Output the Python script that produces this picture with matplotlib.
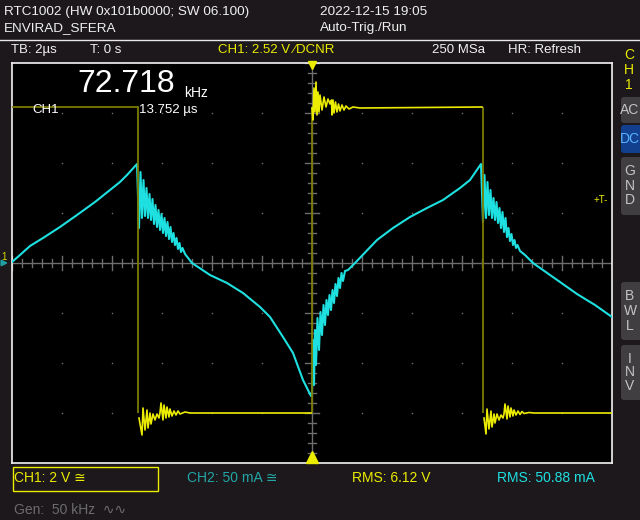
import matplotlib
matplotlib.use('Agg')
import matplotlib.pyplot as plt
from matplotlib.patches import FancyBboxPatch, Rectangle
import numpy as np

plt.rcParams['font.family'] = ['Liberation Sans', 'DejaVu Sans']

# ---- scope settings ----
tb_us_per_div = 2.0        # time base
ch1_v_per_div = 2.0        # CH1 volts / div
ch2_ma_per_div = 50.0      # CH2 mA / div

# ---- CH1 (voltage, yellow square wave) ----
ch1_high = 6.24
ch1_low = -6.0
edge_t = [-6.96, 0.0, 6.84]

ch1_pre_t = [-12.0, -6.96]
ch1_pre_v = [6.24, 6.24]

ch1_low1_t = [-6.92, -6.8, -6.76, -6.68, -6.6, -6.56, -6.48, -6.44, -6.36, -6.28, -6.2, -6.12,
              -6.08, -6.04, -5.96, -5.92, -5.84, -5.8, -5.72, -5.68, -5.6, -5.52, -5.44, -5.36,
              -5.28, -5.08, -4.88, -0.04]
ch1_low1_v = [-6.2, -6.88, -5.8, -6.68, -5.88, -6.6, -6.0, -6.44, -6.04, -6.28, -6.04, -6.2,
              -6.0, -5.6, -6.28, -5.68, -6.2, -5.76, -6.16, -5.84, -6.12, -5.92, -6.08, -5.92,
              -6.04, -5.96, -6.0, -6.0]

ch1_high_t = [0.0, 0.04, 0.08, 0.12, 0.16, 0.2, 0.24, 0.28, 0.32, 0.4, 0.48, 0.56, 0.64, 0.72,
              0.78, 0.8, 0.84, 0.88, 0.94, 1.0, 1.06, 1.12, 1.2, 1.28, 1.36, 1.48, 1.64, 1.92, 6.8]
ch1_high_v = [6.2, 5.72, 7.0, 6.04, 7.24, 5.92, 6.84, 6.04, 6.72, 6.12, 6.64, 6.24, 6.56, 6.36,
              6.52, 5.92, 6.52, 6.0, 6.44, 6.04, 6.36, 6.08, 6.32, 6.12, 6.28, 6.16, 6.24, 6.2, 6.24]

ch1_low2_t = [6.88, 6.96, 7.0, 7.08, 7.16, 7.2, 7.28, 7.32, 7.4, 7.48, 7.56, 7.64, 7.68, 7.72,
              7.8, 7.84, 7.92, 7.96, 8.04, 8.08, 8.16, 8.24, 8.32, 8.4, 8.48, 8.68, 8.88, 12.0]
ch1_low2_v = [-6.2, -6.84, -5.84, -6.64, -5.92, -6.56, -6.04, -6.4, -6.04, -6.28, -6.08, -6.2,
              -6.04, -5.64, -6.24, -5.72, -6.16, -5.8, -6.12, -5.88, -6.08, -5.92, -6.06, -5.94,
              -6.02, -5.98, -6.0, -6.0]

# ---- CH2 (current, cyan) ----
ch2_t = [-12.0, -11.68, -11.28, -10.76, -10.08, -9.4, -8.68, -8.08, -7.68, -7.4, -7.0,
         -6.92, -6.86, -6.8, -6.74, -6.68, -6.62, -6.56, -6.5, -6.44, -6.38, -6.32, -6.26,
         -6.2, -6.14, -6.08, -6.02, -5.96, -5.9, -5.84, -5.78, -5.72, -5.66, -5.6, -5.54,
         -5.48, -5.42, -5.36, -5.3, -5.24, -5.18, -5.08,
         -4.8, -4.08, -3.4, -2.76, -2.08, -1.68, -1.16, -0.76, -0.36, -0.16, -0.04,
         0.0, 0.04, 0.08, 0.12, 0.16, 0.22, 0.28, 0.34, 0.4, 0.46, 0.52, 0.58, 0.64, 0.7,
         0.76, 0.82, 0.88, 0.94, 1.0, 1.06, 1.12, 1.18, 1.24, 1.32, 1.44, 1.72,
         2.6, 3.24, 3.92, 4.6, 5.24, 5.92, 6.32, 6.76,
         6.84, 6.9, 6.96, 7.02, 7.08, 7.14, 7.2, 7.26, 7.32, 7.38, 7.44, 7.5, 7.56, 7.62,
         7.68, 7.74, 7.8, 7.86, 7.92, 7.98, 8.04, 8.1, 8.16, 8.22, 8.32, 8.52,
         8.84, 9.52, 9.92, 10.6, 11.32, 12.0]
ch2_ma = [1, 8, 17, 25, 36, 48, 61, 73, 81, 88, 99,
          35, 91, 45, 83, 47, 75, 45, 69, 43, 64, 39, 58,
          36, 53, 33, 49, 30, 45, 27, 41, 24, 36, 21, 30,
          18, 25, 14, 20, 11, 15, 9,
          0, -12, -20, -30, -44, -54, -74, -90, -117, -127, -133,
          -129, -77, -122, -67, -102, -55, -87, -49, -72, -42, -62, -37, -52, -32,
          -47, -27, -40, -21, -33, -15, -25, -10, -18, -8, -7, 0,
          23, 35, 46, 55, 63, 75, 83, 99,
          41, 88, 45, 81, 48, 73, 45, 65, 43, 61, 40, 55, 35, 51,
          31, 45, 26, 35, 22, 29, 18, 23, 15, 18, 12, 8,
          0, -12, -19, -31, -42, -54]

BG = '#1c181b'
YEL = '#ecec00'
DIM = '#7c7c00'
CYAN = '#1ee0e0'
W, H = 640, 520

fig = plt.figure(figsize=(6.4, 5.2), dpi=100, facecolor=BG)


def fx(x, y):
    return x / W, 1 - y / H


def label(x, y, s, color='#f0f0f0', size=9.5, ha='left', **kw):
    fig.text(*fx(x, y), s, color=color, fontsize=size, ha=ha, va='center', **kw)


# overlay for panel furniture (pixel coords)
bg = fig.add_axes([0, 0, 1, 1], zorder=0)
bg.set_xlim(0, W)
bg.set_ylim(H, 0)
bg.axis('off')
bg.plot([0, W], [39.5, 39.5], color='#e8e8e8', lw=1)

buttons = [(97, 123, 'AC', False), (125, 153, 'DC', True), (157, 215, 'GND', False),
           (282, 340, 'BWL', False), (345, 400, 'INV', False)]
for top, bot, txt, active in buttons:
    bg.add_patch(FancyBboxPatch((621, top), 25, bot - top, boxstyle='round,pad=0,rounding_size=3',
                                fc='#12408f' if active else '#403e41', ec='none'))
    tc = '#56b4ff' if active else '#c4c4c4'
    if len(txt) == 2:
        label(630, (top + bot) / 2, txt, color=tc, size=10, ha='center')
    else:
        step = (bot - top) / 4
        for i, ch in enumerate(txt):
            label(630, top + step * (i + 1), ch, color=tc, size=10, ha='center')
for i, ch in enumerate('CH1'):
    label(629, 55 + 15 * i, ch, color=YEL, size=10, ha='center')

# CH1 box in bottom bar
bg.add_patch(Rectangle((12.5, 466.5), 145, 24, fill=False, ec=YEL, lw=1))

# left channel marker
bg.annotate('', xy=(11, 263), xytext=(0, 263),
            arrowprops=dict(arrowstyle='-|>', color='#1fa0a0', lw=1.5, mutation_scale=8))
label(4, 257, '1', color='#d8d800', size=7, ha='center')

# ---- main graticule ----
ax = fig.add_axes([12 / W, 1 - 463 / H, 600 / W, 400 / H], zorder=1)
ax.set_facecolor('black')
ax.set_xlim(-6 * tb_us_per_div, 6 * tb_us_per_div)
ax.set_ylim(-4, 4)
ax.set_xticks([])
ax.set_yticks([])
for sp in ax.spines.values():
    sp.set_color('#f4f4f4')
    sp.set_linewidth(1.2)

gx, gy = np.meshgrid(np.arange(-5, 6) * tb_us_per_div, np.arange(-3, 4))
ax.scatter(gx.ravel(), gy.ravel(), s=1.2, color='#707070', lw=0)
grat = '#6e6e6e'
ax.axhline(0, color=grat, lw=1)
ax.axvline(0, color=grat, lw=1)
for t in np.arange(-12, 12.01, 0.4):
    h = 0.14 if abs(t / 2 - round(t / 2)) < 1e-6 else 0.08
    ax.plot([t, t], [-h, h], color=grat, lw=1)
for v in np.arange(-4, 4.01, 0.2):
    h = 0.28 if abs(v - round(v)) < 1e-6 else 0.16
    ax.plot([-h, h], [v, v], color=grat, lw=1)

# CH2 trace
ax.plot(ch2_t, np.array(ch2_ma) / ch2_ma_per_div, color=CYAN, lw=1.5, zorder=3)

# CH1 trace
ax.plot(ch1_pre_t, np.array(ch1_pre_v) / ch1_v_per_div, color=DIM, lw=1.3, zorder=4)
ax.vlines(edge_t, ch1_low / ch1_v_per_div, ch1_high / ch1_v_per_div, color=DIM, lw=1.3, zorder=4)
for tt, vv in [(ch1_low1_t, ch1_low1_v), (ch1_high_t, ch1_high_v), (ch1_low2_t, ch1_low2_v)]:
    ax.plot(tt, np.array(vv) / ch1_v_per_div, color=YEL, lw=1.2, zorder=4)

# trigger position markers
ax.plot([0], [3.97], marker='v', ms=6, color=YEL, clip_on=False, zorder=5)
ax.plot([0], [-3.88], marker='^', ms=8, color=YEL, clip_on=False, zorder=5)
ax.text(11.55, 1.26, '+T-', color=YEL, fontsize=7, ha='center', va='center', zorder=5)

# ---- header ----
label(4, 12, 'RTC1002 (HW 0x101b0000; SW 06.100)', size=9.7)
label(4, 28, 'ENVIRAD_SFERA', size=9.7)
label(320, 12, '2022-12-15 19:05', size=9.7)
label(320, 28, 'Auto-Trig./Run', size=9.7)
label(11, 50, 'TB: 2\u00b5s')
label(90, 50, 'T: 0 s')
label(218, 50, 'CH1: 2.52 V \u2215DCNR', color=YEL)
label(432, 50, '250 MSa')
label(508, 50, 'HR: Refresh')

# measurement readout
label(77, 84, '72.718', color='white', size=23)
label(184, 93, 'kHz', color='white', size=10)
label(32, 110, 'CH1', color='white', size=9.5)
label(139, 110, '13.752 \u00b5s', color='white', size=9.5)

# ---- bottom bar ----
label(14, 478, 'CH1: 2 V \u2245', color=YEL, size=10)
label(187, 478, 'CH2: 50 mA \u2245', color='#23a6a6', size=10)
label(352, 478, 'RMS: 6.12 V', color=YEL, size=10)
label(497, 478, 'RMS: 50.88 mA', color=CYAN, size=10)
label(14, 510, 'Gen:  50 kHz  \u223f\u223f', color='#6c6c6c', size=10)

fig.savefig('out.png', dpi=100, facecolor=BG)
